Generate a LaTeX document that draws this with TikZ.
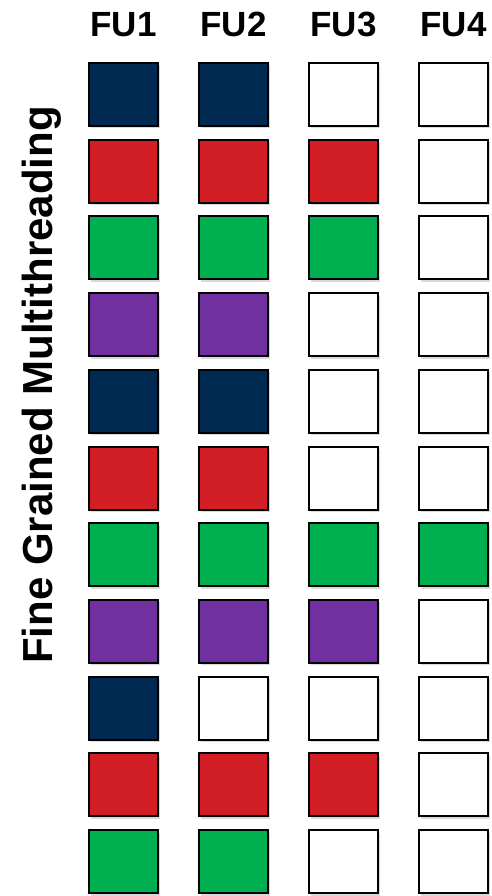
\documentclass[tikz,border=0pt]{standalone}
\usepackage{fontspec}
\setmainfont{Liberation Sans}
\usetikzlibrary{shadows}
\definecolor{cN}{HTML}{002A52}
\definecolor{cR}{HTML}{D21F26}
\definecolor{cG}{HTML}{00B050}
\definecolor{cP}{HTML}{7030A0}
\definecolor{cW}{HTML}{FFFFFF}
\tikzset{
  slot/.style={draw=black, line width=2pt, minimum width=69pt, minimum height=63pt, inner sep=0pt,
    drop shadow={shadow xshift=1.5pt, shadow yshift=-2.5pt, opacity=0.3}},
  fulabel/.style={font=\bfseries\fontsize{35}{35}\selectfont, anchor=base, inner sep=0pt},
  sidelabel/.style={font=\bfseries\fontsize{42}{42}\selectfont, rotate=90, anchor=base, inner sep=0pt}
}
\begin{document}
\begin{tikzpicture}[x=1pt,y=1pt]
\useasboundingbox (0,0) rectangle (491,-896);
\foreach \c in {1,...,4}{
  \node[fulabel] (fu\c) at ({123.5+110*(\c-1)},-37) {FU\c};
}
\node[sidelabel] (side) at (52,-385) {Fine Grained Multithreading};
\foreach \r/\row in {1/{N,N,W,W},2/{R,R,R,W},3/{G,G,G,W},4/{P,P,W,W},5/{N,N,W,W},6/{R,R,W,W},7/{G,G,G,G},8/{P,P,P,W},9/{N,W,W,W},10/{R,R,R,W},11/{G,G,W,W}}{
  \foreach \col [count=\c] in \row {
    \node[slot, fill=c\col] (s\r-\c) at ({123.5+110*(\c-1)},{-(94.5+76.7*(\r-1))}) {};
  }
}
\end{tikzpicture}
\end{document}
